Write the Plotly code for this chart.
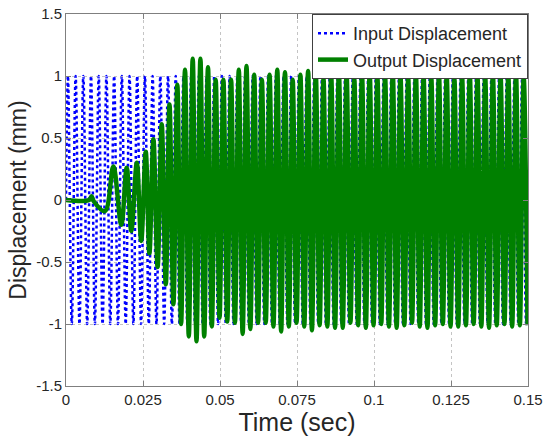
import plotly.graph_objects as go

# ---------------- data ----------------
# Input displacement: successive extremes (mm) of the 400 Hz excitation
input_first_time = 0.000625      # s, time of first extreme
input_half_period = 0.00125      # s, spacing between successive extremes
input_extremes = [
    1.0, -1.0, 1.0, -1.0, 1.0, -1.0, 1.0, -1.0, 1.0, -1.0,
    1.0, -1.0, 1.0, -1.0, 1.0, -1.0, 1.0, -1.0, 1.0, -1.0,
    1.0, -1.0, 1.0, -1.0, 1.0, -1.0, 1.0, -1.0, 1.0, -1.0,
    1.0, -1.0, 1.0, -1.0, 1.0, -1.0, 1.0, -1.0, 1.0, -1.0,
    1.0, -1.0, 1.0, -1.0, 1.0, -1.0, 1.0, -1.0, 1.0, -1.0,
    1.0, -1.0, 1.0, -1.0, 1.0, -1.0, 1.0, -1.0, 1.0, -1.0,
    1.0, -1.0, 1.0, -1.0, 1.0, -1.0, 1.0, -1.0, 1.0, -1.0,
    1.0, -1.0, 1.0, -1.0, 1.0, -1.0, 1.0, -1.0, 1.0, -1.0,
    1.0, -1.0, 1.0, -1.0, 1.0, -1.0, 1.0, -1.0, 1.0, -1.0,
    1.0, -1.0, 1.0, -1.0, 1.0, -1.0, 1.0, -1.0, 1.0, -1.0,
    1.0, -1.0, 1.0, -1.0, 1.0, -1.0, 1.0, -1.0, 1.0, -1.0,
    1.0, -1.0, 1.0, -1.0, 1.0, -1.0, 1.0, -1.0, 1.0, -1.0,
]
input_start = (0.0, 0.0)
input_end = (0.15, 0.0)

# Output displacement: transient part (time s, displacement mm)
output_transient_time = [
    0.0, 0.0075, 0.0083, 0.0090, 0.01266, 0.01536, 0.01795, 0.01971,
    0.0212, 0.02299, 0.02442, 0.02588, 0.02708, 0.02838, 0.02974,
    0.03107, 0.0324, 0.0336, 0.03487, 0.03614, 0.03737, 0.03864,
    0.03987, 0.04114, 0.04237, 0.04364, 0.04487,
]
output_transient_value = [
    0.0, 0.0, 0.03, -0.01, -0.09, 0.27, -0.20, 0.26,
    -0.25, 0.30, -0.33, 0.39, -0.43, 0.49, -0.54,
    0.61, -0.68, 0.77, -0.84, 0.93, -1.00, 1.05,
    -1.10, 1.14, -1.14, 1.14, -1.10,
]
# Output displacement: steady part, successive extremes (mm)
output_steady_first_time = 0.0461
output_half_period = 0.00125
output_steady_extremes = [
    1.07, -1.02, 0.97, -0.95, 0.97, -0.98, 0.97, -0.99, 1.05, -1.08,
    1.08, -1.04, 1.01, -0.99, 0.97, -0.99, 1.01, -1.02, 1.05, -1.06,
    1.03, -1.02, 0.97, -0.99, 1.01, -1.02, 1.04, -1.05, 1.02, -1.01,
    0.98, -1.02, 1.01, -1.03, 1.04, -1.03, 1.02, -0.99, 0.98, -1.01,
    1.02, -1.03, 1.03, -1.01, 0.99, -1.00, 1.00, -1.02, 1.03, -1.03,
    1.00, -1.01, 0.99, -0.99, 1.02, -1.02, 1.00, -1.03, 0.99, -1.01,
    1.01, -1.00, 1.01, -1.02, 0.98, -1.02, 1.00, -1.01, 1.02, -1.00,
    0.99, -1.02, 1.00, -1.03, 1.02, -1.01, 1.00, -1.00, 1.01, -1.02,
    1.02, -1.01, 0.99, -1.01,
]

x_ticks = [0, 0.025, 0.05, 0.075, 0.1, 0.125, 0.15]
x_tick_labels = ["0", "0.025", "0.05", "0.075", "0.1", "0.125", "0.15"]
y_ticks = [-1.5, -1, -0.5, 0, 0.5, 1, 1.5]
y_tick_labels = ["-1.5", "-1", "-0.5", "0", "0.5", "1", "1.5"]

# ---------------- build series ----------------
in_t = [input_start[0]] + [input_first_time + i * input_half_period
                           for i in range(len(input_extremes))] + [input_end[0]]
in_y = [input_start[1]] + input_extremes + [input_end[1]]

out_t = output_transient_time + [output_steady_first_time + i * output_half_period
                                 for i in range(len(output_steady_extremes))]
out_y = output_transient_value + output_steady_extremes

FONT = "Liberation Sans, Arial, Helvetica, sans-serif"

fig = go.Figure()
fig.add_trace(go.Scatter(
    x=in_t, y=in_y, mode="lines", name="Input Displacement",
    line=dict(color="#0000ff", width=2.5, dash="dot", shape="spline"),
))
fig.add_trace(go.Scatter(
    x=out_t, y=out_y, mode="lines", name="Output Displacement",
    line=dict(color="#008000", width=4.5, shape="spline"),
))

axis_common = dict(
    showline=True, linecolor="#7f7f7f", linewidth=1, mirror="ticks",
    ticks="inside", ticklen=5, tickcolor="#7f7f7f",
    showgrid=True, gridcolor="#c4c4c4", griddash="dot", gridwidth=1,
    zeroline=False, tickfont=dict(family=FONT, size=15, color="#262626"),
)

fig.update_xaxes(
    range=[0, 0.15], tickvals=x_ticks, ticktext=x_tick_labels,
    title=dict(text="Time (sec)", font=dict(family=FONT, size=25, color="#262626"), standoff=6),
    **axis_common,
)
fig.update_yaxes(
    range=[-1.5, 1.5], tickvals=y_ticks, ticktext=y_tick_labels,
    title=dict(text="Displacement (mm)", font=dict(family=FONT, size=23, color="#262626"), standoff=3),
    **axis_common,
)

fig.update_layout(
    width=547, height=436,
    margin=dict(l=66, r=19, t=14, b=50, autoexpand=False),
    paper_bgcolor="white", plot_bgcolor="white",
    font=dict(family=FONT, color="#262626"),
    legend=dict(
        x=1, y=1, xanchor="right", yanchor="top",
        bgcolor="white", bordercolor="#404040", borderwidth=1,
        font=dict(family=FONT, size=18, color="#262626"),
        itemwidth=30, tracegroupgap=0,
    ),
    showlegend=True,
)

fig.write_html("out.html")
